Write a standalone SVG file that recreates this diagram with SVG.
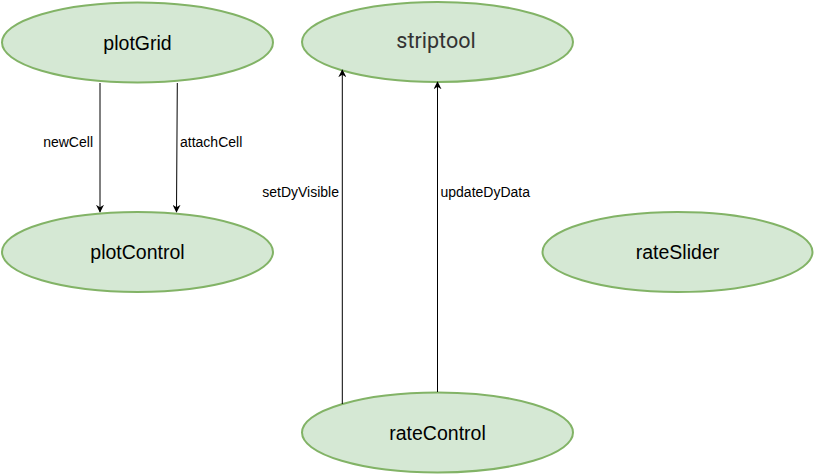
<svg xmlns="http://www.w3.org/2000/svg" width="814" height="474" viewBox="0 0 814 474">
<style>
.node ellipse{fill:#d5e8d4;stroke:#82b366;stroke-width:2}
.node text{font-family:"Liberation Sans",Arial,sans-serif;font-size:19.5px;fill:#000;text-anchor:middle;dominant-baseline:central}
.edges line{stroke:#000;stroke-width:1;fill:none}
.lbl{font-family:"Liberation Sans",Arial,sans-serif;font-size:14px;fill:#000;dominant-baseline:central}
</style>
<defs>
<marker id="arr" viewBox="0 0 10 10" refX="9" refY="5" markerWidth="8" markerHeight="8" markerUnits="userSpaceOnUse" orient="auto">
<path d="M0,0 L10,5 L0,10 L3,5 z" fill="#000"/>
</marker>
</defs>
<rect width="814" height="474" fill="#fff"/>
<g id="plotGrid" class="node"><ellipse cx="137.5" cy="42.5" rx="135.5" ry="40"/><text x="137.5" y="42.5">plotGrid</text></g>
<g id="striptool" class="node"><ellipse cx="437.5" cy="42" rx="135.5" ry="40"/><text x="436" y="40" style="font-family:Roboto,'Liberation Sans',sans-serif;font-size:21.5px;fill:#333">striptool</text></g>
<g id="plotControl" class="node"><ellipse cx="137.5" cy="252" rx="135.5" ry="40"/><text x="137.5" y="252">plotControl</text></g>
<g id="rateSlider" class="node"><ellipse cx="677.5" cy="252" rx="135" ry="40"/><text x="677.5" y="252">rateSlider</text></g>
<g id="rateControl" class="node"><ellipse cx="437.5" cy="432.5" rx="135.5" ry="40"/><text x="437.5" y="432.5">rateControl</text></g>
<g id="edges" class="edges">
<line x1="100" y1="83" x2="100" y2="212" marker-end="url(#arr)"/>
<line x1="177.3" y1="83" x2="176.5" y2="212" marker-end="url(#arr)"/>
<line x1="342.3" y1="404" x2="342.3" y2="70" marker-end="url(#arr)"/>
<line x1="437.5" y1="392" x2="437.5" y2="82" marker-end="url(#arr)"/>
</g>
<g id="labels">
<text class="lbl" x="93" y="142" text-anchor="end">newCell</text>
<text class="lbl" x="180" y="142">attachCell</text>
<text class="lbl" x="339" y="192" text-anchor="end">setDyVisible</text>
<text class="lbl" x="440.5" y="192">updateDyData</text>
</g>
</svg>
